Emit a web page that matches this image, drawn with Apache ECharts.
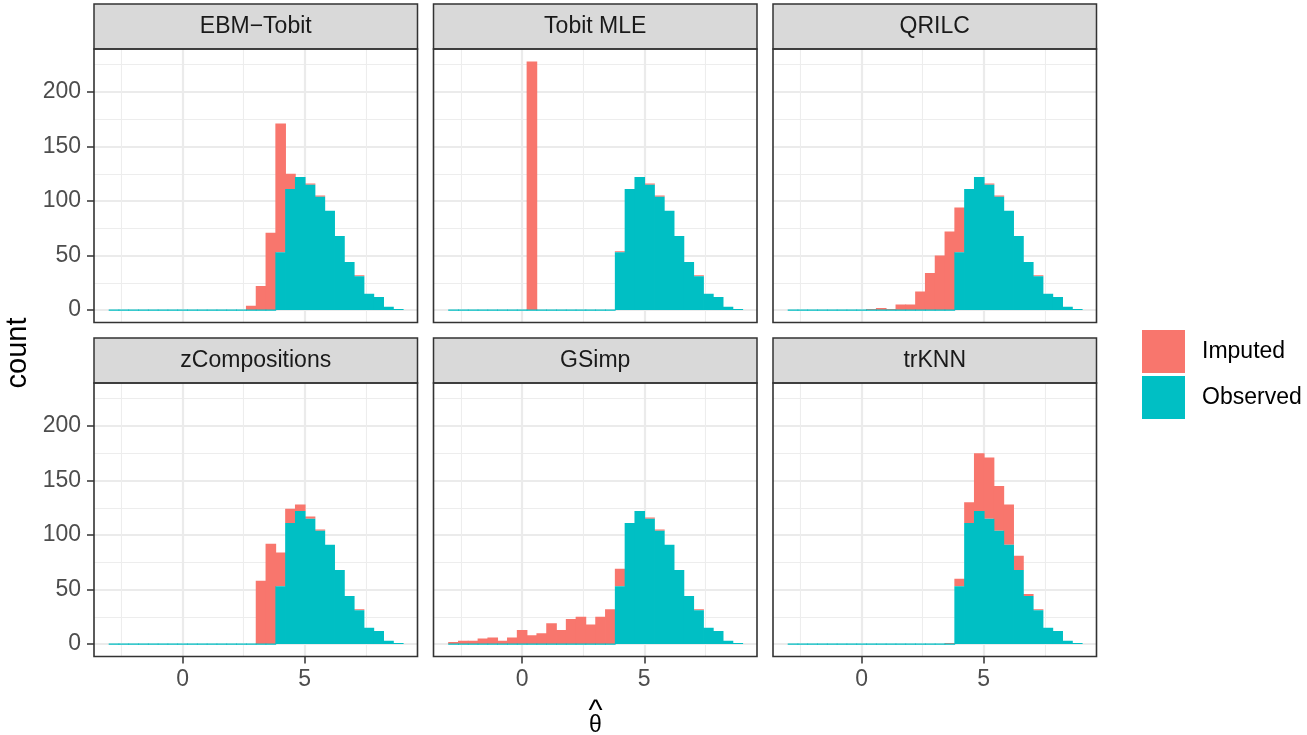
<!DOCTYPE html>
<html><head><meta charset="utf-8">
<script src="https://cdn.jsdelivr.net/npm/echarts@6/dist/echarts.min.js"></script>
<style>html,body{margin:0;padding:0;background:#fff}#c{width:1307px;height:735px}</style>
</head><body><div id="c"></div>
<script>
// ---------------- DATA ----------------
const methods = ['EBM\u2212Tobit', 'Tobit MLE', 'QRILC', 'zCompositions', 'GSimp', 'trKNN'];
const binStart = -3.02;   // left edge of the first histogram bin
const binWidth = 0.401;   // bin width (30 bins)
const observed = [0,0,0,0,0,0,0,0,0,0,0,0,0,0,0,0,0,53,111,122,115,104,91,68,44,31,15,12,3,1];
const impEBMTobit = [0,0,0,0,0,0,0,0,0,0,0,0,0,0,4,22,71,118,14,0,1,1,0,0,0,1,0,0,0,0];
const impTobitMLE = [0,0,0,0,0,0,0,0,228,0,0,0,0,0,0,0,0,1,0,0,1,1,0,0,0,1,0,0,0,0];
const impQRILC = [0,0,0,0,0,0,0,0,1,2,1,5,5,17,34,50,72,41,0,0,1,1,0,0,0,1,0,0,0,0];
const impZComp = [0,0,0,0,0,0,0,0,0,0,0,0,0,0,0,58,92,31,13,6,2,1,0,0,0,1,0,0,0,0];
const impGSimp = [2,3,3,5,6,3,6,13,8,10,19,13,23,25,18,25,32,16,0,0,1,1,0,0,0,1,0,0,0,0];
const impTrKNN = [0,0,0,0,0,0,0,0,0,0,0,0,0,0,0,0,1,7,19,53,56,41,37,13,2,1,0,0,0,0];
const imputedByMethod = [impEBMTobit, impTobitMLE, impQRILC, impZComp, impGSimp, impTrKNN];
const yTicks = [0, 50, 100, 150, 200];
const yMinor = [25, 75, 125, 175, 225];
const xTicks = [0, 5];
const xMinor = [-2.5, 2.5, 7.5];
const legendNames = ['Imputed', 'Observed'];
const xTitle = '\u03B8';
const yTitle = 'count';

// ---------------- STYLE / LAYOUT ----------------
const COL_IMP = '#F8766D', COL_OBS = '#00BFC4';
const FONT = '"Liberation Sans", Arial, Helvetica, sans-serif';
const colLeft = [94, 433.5, 773];
const rowTop = [49, 383];
const panelW = 323.5, panelH = 273.5, stripH = 45;

// ggplot-style 5% expansion
const nBins = observed.length;
const dataLo = binStart, dataHi = binStart + nBins * binWidth;
const xMin = dataLo - 0.05 * (dataHi - dataLo), xMax = dataHi + 0.05 * (dataHi - dataLo);
let maxTot = 0;
imputedByMethod.forEach(a => a.forEach((v, i) => { maxTot = Math.max(maxTot, v + observed[i]); }));
const yMin = -0.05 * maxTot, yMax = maxTot * 1.05;

function makeRender(color, isObs) {
  return function (params, api) {
    const x0 = api.value(0), x1 = api.value(1), b = api.value(2), t = api.value(3);
    const p0 = api.coord([x0, b]);
    const p1 = api.coord([x1, t]);
    const w = p1[0] - p0[0];
    const h = p0[1] - p1[1];
    if (h <= 0.01) {
      if (!isObs) return null;
      return { type: 'rect', shape: { x: p0[0], y: p0[1] - 0.6, width: w + 0.8, height: 1.2 }, style: { fill: color } };
    }
    return { type: 'rect', shape: { x: p0[0], y: p1[1], width: w + 0.8, height: h }, style: { fill: color } };
  };
}

const grids = [], xAxes = [], yAxes = [], series = [], graphics = [];
const tickLine = { color: '#333333', width: 1.5 };
const labelStyle = { fontSize: 23, color: '#4D4D4D', fontFamily: FONT };
const majorGrid = { color: '#EBEBEB', width: 2.2 };
const minorGrid = { color: '#EDEDED', width: 1.1 };

methods.forEach((name, g) => {
  const r = Math.floor(g / 3), c = g % 3;
  grids.push({ left: colLeft[c], top: rowTop[r], width: panelW, height: panelH, show: false, containLabel: false, outerBoundsMode: 'none' });
  // major x axis
  xAxes.push({
    gridIndex: g, type: 'value', min: xMin, max: xMax, position: 'bottom',
    axisLine: { show: false, onZero: false },
    axisTick: { show: r === 1, customValues: xTicks, length: 7, lineStyle: tickLine },
    axisLabel: { show: r === 1, customValues: xTicks, margin: 12, ...labelStyle },
    splitLine: { show: true, lineStyle: majorGrid }
  });
  // minor x axis (grid lines only)
  xAxes.push({
    gridIndex: g, type: 'value', min: xMin, max: xMax, position: 'bottom',
    axisLine: { show: false, onZero: false },
    axisTick: { show: false, customValues: xMinor },
    axisLabel: { show: false },
    splitLine: { show: true, lineStyle: minorGrid }
  });
  yAxes.push({
    gridIndex: g, type: 'value', min: yMin, max: yMax, position: 'left',
    axisLine: { show: false, onZero: false },
    axisTick: { show: c === 0, customValues: yTicks, length: 7, lineStyle: tickLine },
    axisLabel: { show: c === 0, customValues: yTicks, margin: 13, ...labelStyle },
    splitLine: { show: true, lineStyle: majorGrid }
  });
  yAxes.push({
    gridIndex: g, type: 'value', min: yMin, max: yMax, position: 'left',
    axisLine: { show: false, onZero: false },
    axisTick: { show: false, customValues: yMinor },
    axisLabel: { show: false },
    splitLine: { show: true, lineStyle: minorGrid }
  });
  const imp = imputedByMethod[g];
  const obsData = observed.map((v, i) => [binStart + i * binWidth, binStart + (i + 1) * binWidth, 0, v]);
  const impData = imp.map((v, i) => [binStart + i * binWidth, binStart + (i + 1) * binWidth, observed[i], observed[i] + v]);
  series.push({
    name: legendNames[0], type: 'custom', xAxisIndex: 2 * g, yAxisIndex: 2 * g,
    itemStyle: { color: COL_IMP }, renderItem: makeRender(COL_IMP, false),
    encode: { x: [0, 1], y: [2, 3] }, data: impData, clip: true, silent: true, z: 3
  });
  series.push({
    name: legendNames[1], type: 'custom', xAxisIndex: 2 * g, yAxisIndex: 2 * g,
    itemStyle: { color: COL_OBS }, renderItem: makeRender(COL_OBS, true),
    encode: { x: [0, 1], y: [2, 3] }, data: obsData, clip: true, silent: true, z: 4
  });
  // strip
  graphics.push({
    type: 'rect', z: 10, silent: true,
    shape: { x: colLeft[c], y: rowTop[r] - stripH, width: panelW, height: stripH },
    style: { fill: '#D9D9D9', stroke: '#333333', lineWidth: 1.5 }
  });
  graphics.push({
    type: 'text', z: 11, silent: true, x: colLeft[c] + panelW / 2, y: rowTop[r] - stripH / 2,
    style: { text: name, font: '23px ' + FONT, fill: '#1A1A1A', align: 'center', verticalAlign: 'middle' }
  });
  // panel border
  graphics.push({
    type: 'rect', z: 10, silent: true,
    shape: { x: colLeft[c], y: rowTop[r], width: panelW, height: panelH },
    style: { fill: 'none', stroke: '#333333', lineWidth: 1.6 }
  });
});

// axis titles
graphics.push({
  type: 'text', silent: true, x: 18, y: 353, rotation: Math.PI / 2,
  style: { text: yTitle, font: '29px ' + FONT, fill: '#000', align: 'center', verticalAlign: 'middle' }
});
graphics.push({
  type: 'text', silent: true, x: 595.5, y: 712,
  style: { text: '^', font: '30px ' + FONT, fill: '#000', align: 'center', verticalAlign: 'middle' }
});
graphics.push({
  type: 'text', silent: true, x: 595.5, y: 726,
  style: { text: xTitle, font: '23px ' + FONT, fill: '#000', align: 'center', verticalAlign: 'middle' }
});

const chart = echarts.init(document.getElementById('c'), null, { renderer: 'canvas' });
chart.setOption({
  animation: false,
  backgroundColor: '#ffffff',
  grid: grids,
  xAxis: xAxes,
  yAxis: yAxes,
  series: series,
  legend: {
    orient: 'vertical', left: 1142, top: 330, padding: 0,
    itemWidth: 43, itemHeight: 43, itemGap: 3, icon: 'rect',
    data: legendNames,
    textStyle: { fontSize: 23, color: '#000', fontFamily: FONT, padding: [0, 0, 0, 12] }
  },
  graphic: graphics
});
</script></body></html>
